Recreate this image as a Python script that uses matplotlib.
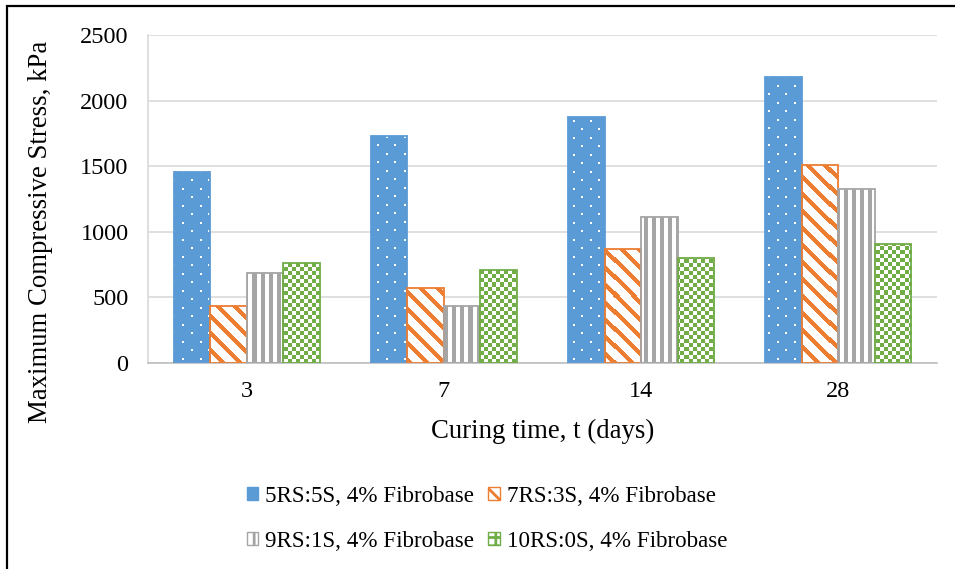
import numpy as np
import matplotlib
matplotlib.use("Agg")
import matplotlib.pyplot as plt
from matplotlib.patches import Patch, Rectangle

# ---------------- data ----------------
categories = ["3", "7", "14", "28"]
series_names = ["5RS:5S, 4% Fibrobase", "7RS:3S, 4% Fibrobase",
                "9RS:1S, 4% Fibrobase", "10RS:0S, 4% Fibrobase"]
s_5rs = [1452, 1731, 1872, 2181]
s_7rs = [432, 568, 870, 1506]
s_9rs = [685, 433, 1115, 1327]
s_10rs = [762, 712, 800, 908]
y_ticks = [0, 500, 1000, 1500, 2000, 2500]

series = [s_5rs, s_7rs, s_9rs, s_10rs]
colors = ["#5B9BD5", "#ED7D31", "#A5A5A5", "#70AD47"]
facecols = ["#5B9BD5", "#FFFFFF", "#FFFFFF", "#FFFFFF"]

plt.rcParams["font.family"] = ["Liberation Serif", "DejaVu Serif"]

W, H, DPI = 955, 569, 100
fig = plt.figure(figsize=(W / DPI, H / DPI), dpi=DPI)
ax_l, ax_r, ax_t, ax_b = 148, 937, 35, 363
ax = fig.add_axes([ax_l / W, 1 - ax_b / H, (ax_r - ax_l) / W, (ax_b - ax_t) / H])

ymax = 2500
xlim = (-0.5, len(categories) - 0.5)
pw, ph = ax_r - ax_l, ax_b - ax_t
rr, cc = np.mgrid[0:ph, 0:pw]


def rgba(hexcol):
    return np.array(matplotlib.colors.to_rgba(hexcol))


def texture(kind, col):
    tex = np.zeros((ph, pw, 4))
    if kind == "dots":
        r17, c17 = rr % 17, cc % 17
        m = ((r17 < 2) & (c17 < 2)) | ((r17 >= 8) & (r17 < 10) & (c17 >= 8) & (c17 < 10))
        tex[m] = rgba("#FFFFFF")
    elif kind == "diag":
        m = ((cc - rr) % 17) < 6
        tex[m] = rgba(col)
    elif kind == "vert":
        m = (cc % 8) < 4
        tex[m] = rgba(col)
    elif kind == "check":
        m = ((rr // 4 + cc // 4) % 2) == 0
        tex[m] = rgba(col)
    return tex


kinds = ["dots", "diag", "vert", "check"]
x = np.arange(len(categories))
bw = 0.185
offsets = (np.arange(4) - 1.5) * bw

for i, vals in enumerate(series):
    bars = ax.bar(x + offsets[i], vals, bw, color=facecols[i], edgecolor="none",
                  linewidth=0, zorder=2)
    tex = texture(kinds[i], colors[i])
    for p in bars.patches:
        im = ax.imshow(tex, extent=(xlim[0], xlim[1], 0, ymax), origin="upper",
                       aspect="auto", interpolation="nearest", zorder=2.5)
        im.set_clip_path(p)
    ax.bar(x + offsets[i], vals, bw, facecolor="none", edgecolor=colors[i],
           linewidth=1.3, zorder=3)

ax.set_xlim(*xlim)
ax.set_ylim(0, ymax)
ax.set_yticks(y_ticks)
ax.set_yticklabels([str(v) for v in y_ticks])
ax.set_xticks(x)
ax.set_xticklabels(categories)
ax.yaxis.grid(True, color="#D9D9D9", linewidth=1.2, zorder=0)
ax.set_axisbelow(True)
for s in ["top", "right"]:
    ax.spines[s].set_visible(False)
ax.spines["left"].set_color("#D9D9D9")
ax.spines["left"].set_linewidth(1.2)
ax.spines["bottom"].set_color("#BFBFBF")
ax.spines["bottom"].set_linewidth(1.2)
ax.tick_params(axis="both", length=0, labelsize=17.5, colors="black")
ax.tick_params(axis="y", pad=14)
ax.tick_params(axis="x", pad=13)
ax.set_ylabel("Maximum Compressive Stress, kPa", fontsize=19.3, va="center")
ax.set_xlabel("Curing time, t (days)", fontsize=19.3, va="center")
ax.yaxis.set_label_coords((41 - ax_l) / pw, 0.5 + (ph / 2 - (232 - ax_t)) / ph)
ax.xaxis.set_label_coords(0.5 + (543 - (ax_l + ax_r) / 2) / pw, -(431 - ax_b) / ph)

plt.rcParams["hatch.linewidth"] = 2.0
handles = [
    Patch(facecolor=colors[0], edgecolor=colors[0], label=series_names[0]),
    Patch(facecolor="white", edgecolor=colors[2], hatch="||", label=series_names[2]),
    Patch(facecolor="white", edgecolor=colors[1], hatch="\\\\", label=series_names[1]),
    Patch(facecolor="white", edgecolor=colors[3], hatch="++", label=series_names[3]),
]
fig.legend(handles=handles, ncol=2, loc="center", bbox_to_anchor=(487 / W, 1 - 519 / H),
           frameon=False, fontsize=16.6, handlelength=0.5, handleheight=0.5,
           handletextpad=0.3, columnspacing=0.6, labelspacing=1.05)

fig.add_artist(Rectangle((7 / W, -0.1), 1.2, 1.1 - 6.5 / H, transform=fig.transFigure,
                         fill=False, edgecolor="black", linewidth=1.6, clip_on=False))

fig.savefig("out.png", dpi=DPI)
